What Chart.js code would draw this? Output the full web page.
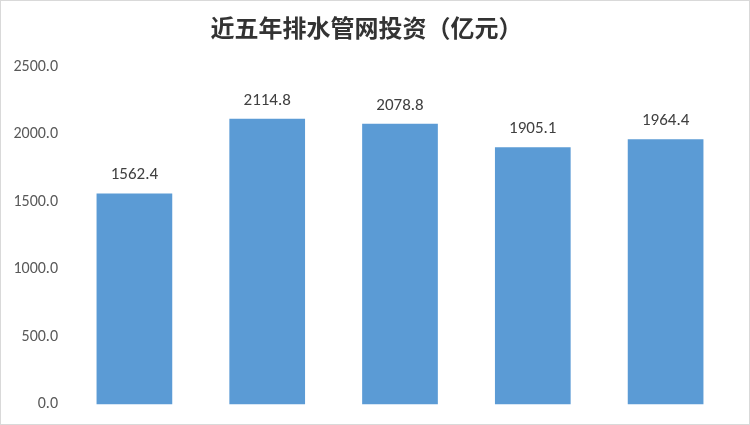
<!DOCTYPE html>
<html>
<head>
<meta charset="utf-8">
<script src="https://cdn.jsdelivr.net/npm/chart.js@4/dist/chart.umd.min.js"></script>
<style>
  body { margin: 0; background: #fff; }
  .marco { width: 748px; height: 423px; border: 1px solid #d9d9d9; background: #fff; }
</style>
</head>
<body>
<div class="marco"><canvas id="grafico-barras" width="748" height="423"></canvas></div>
<script>
/* Datos */
var categorias = ["第1年", "第2年", "第3年", "第4年", "第5年"];
var inversion = [1562.4, 2114.8, 2078.8, 1905.1, 1964.4];
var ticksY = [0, 500, 1000, 1500, 2000, 2500];

// Etiquetas encima de cada barra
var etiquetasBarras = {
  id: "etiquetasBarras",
  afterDatasetsDraw: function(chart) {
    var ctx = chart.ctx;
    var meta = chart.getDatasetMeta(0);
    ctx.save();
    ctx.font = "17px Carlito, 'Open Sans', sans-serif";
    ctx.fillStyle = "#404040";
    ctx.textAlign = "center";
    ctx.textBaseline = "alphabetic";
    meta.data.forEach(function(barra, i) {
      ctx.fillText(inversion[i].toFixed(1), barra.x, barra.y - 14);
    });
    ctx.restore();
  }
};

var ctx = document.getElementById("grafico-barras").getContext("2d");

new Chart(ctx, {
  type: "bar",
  data: {
    labels: categorias,
    datasets: [{
      label: "投资",
      data: inversion,
      backgroundColor: "#5b9bd5",
      borderWidth: 0,
      categoryPercentage: 1,
      barPercentage: 0.57
    }]
  },
  options: {
    responsive: false,
    animation: false,
    layout: {
      padding: { left: 0, right: 17, top: 0, bottom: 15 }
    },
    plugins: {
      legend: { display: false },
      tooltip: { enabled: false },
      title: {
        display: true,
        text: "近五年排水管网投资（亿元）",
        color: "#333333",
        font: { size: 24, weight: "bold", family: "'Noto Sans CJK SC', sans-serif" },
        padding: { top: 12, bottom: 25 }
      }
    },
    scales: {
      x: {
        grid: { display: false, drawTicks: false },
        border: { display: false },
        ticks: { display: false }
      },
      y: {
        min: 0,
        max: 2500,
        afterBuildTicks: function(scale) {
          scale.ticks = ticksY.map(function(v) { return { value: v }; });
        },
        afterFit: function(scale) {
          scale.width = 67;
        },
        grid: { display: false, drawTicks: false },
        border: { display: false },
        ticks: {
          padding: 10,
          color: "#595959",
          font: { size: 16, family: "Carlito, 'Open Sans', sans-serif" },
          callback: function(v) { return Number(v).toFixed(1); }
        }
      }
    }
  },
  plugins: [etiquetasBarras]
});
</script>
</body>
</html>
